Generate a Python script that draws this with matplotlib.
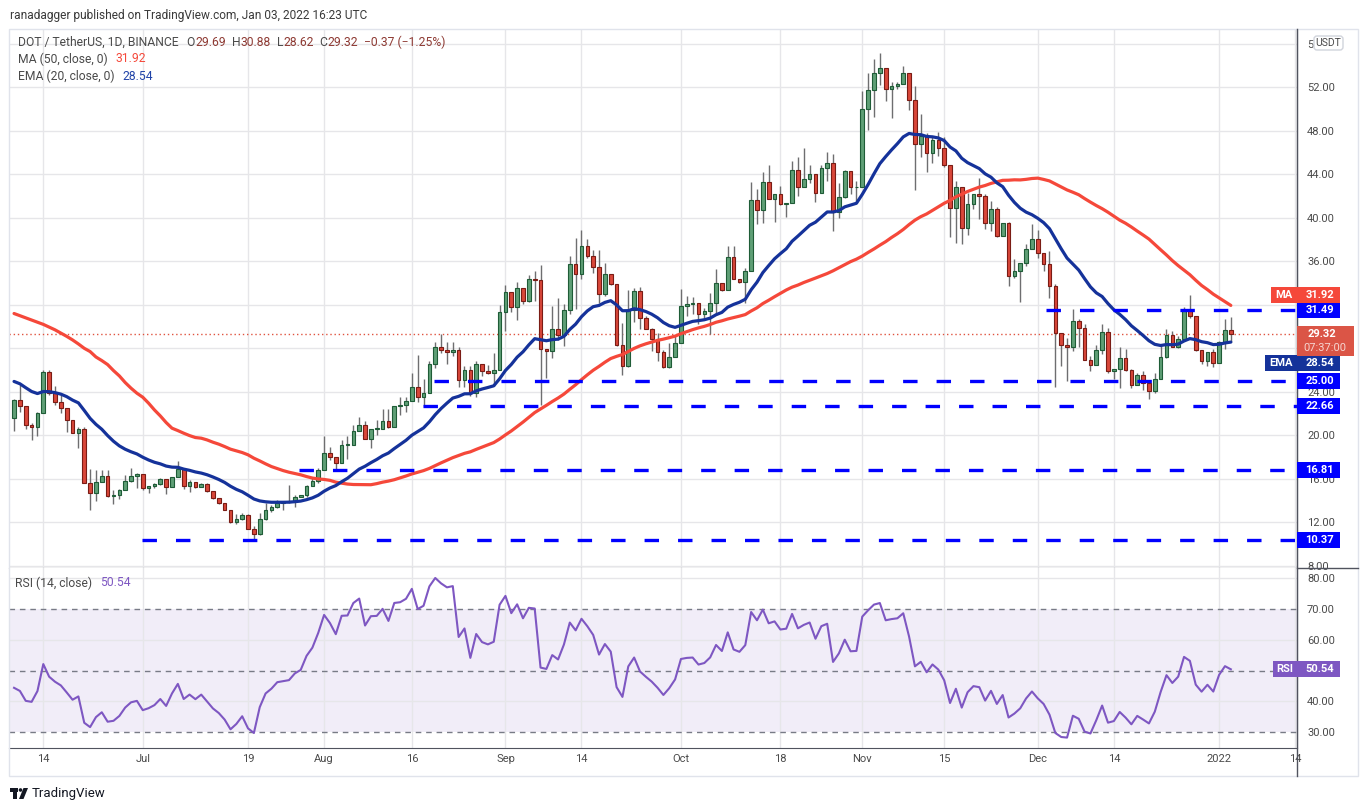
import numpy as np
import pandas as pd
import matplotlib
matplotlib.use("Agg")
import matplotlib.pyplot as plt
from matplotlib.patches import Rectangle, FancyBboxPatch, Circle, Polygon

plt.rcParams["font.family"] = ["Roboto", "DejaVu Sans"]
plt.rcParams["lines.scale_dashes"] = False

W, H = 1369, 811

# ── Data (DOT/USDT daily, Binance) ─────────────────────────────────
start_date = "2021-06-09"
first_open = 21.63

closes = [
    23.25, 22.70, 20.92, 20.74, 22.03, 25.80, 23.87, 23.07, 22.49, 21.38,
    20.19, 20.56, 15.65, 14.67, 15.74, 16.26, 14.43, 14.52, 14.98, 15.77,
    16.26, 16.39, 15.13, 15.29, 15.53, 15.99, 15.22, 16.14, 16.88, 15.35,
    15.68, 15.22, 15.53, 14.89, 14.21, 13.75, 13.08, 12.00, 12.28, 12.68,
    11.42, 10.90, 12.28, 13.11, 13.41, 13.81, 13.87, 13.93, 14.30, 14.49,
    15.29, 15.80, 16.82, 18.35, 17.98,
    17.46, 19.08, 19.11, 20.40, 20.92, 19.66, 20.58, 20.61, 21.32, 20.77,
    22.67, 22.76, 23.16, 24.44, 23.52, 23.89, 26.56, 28.12, 27.85, 27.66,
    27.85, 25.09, 26.01, 23.89, 26.56, 25.91, 25.73, 26.01, 31.34, 33.21,
    31.80, 33.55, 32.35, 34.37, 34.31, 27.94, 27.75, 29.78, 29.23, 31.55,
    35.79, 34.87, 37.38, 36.52, 35.51, 33.03, 34.87, 33.89, 28.30, 26.37,
    31.52, 33.30, 30.76, 29.75, 28.83, 27.66, 26.25, 27.23, 28.52, 31.89,
    32.08, 32.14, 31.19, 31.41, 32.20, 34.04, 33.37, 36.37, 34.41, 34.13,
    35.14, 41.67, 40.72, 43.33, 41.73, 42.16, 41.24, 41.40, 44.43,
    42.86, 43.54, 44.00, 42.31, 44.55, 45.01, 40.50, 41.88, 44.30, 42.80,
    42.86, 49.97, 51.72, 53.37, 53.83, 51.81, 52.09, 52.27, 53.37, 50.80,
    46.75, 47.49, 45.93, 47.12, 46.39, 44.82, 40.87, 42.80, 39.03, 41.24,
    42.16, 41.97, 39.49, 40.81, 38.30, 39.49, 34.62,
    35.14, 35.82, 37.10, 38.02, 36.80, 35.79, 33.73, 29.41, 28.31, 28.15,
    30.55, 29.90, 26.93, 26.47, 27.88, 29.53, 25.95, 26.13, 27.14, 26.04,
    24.66, 25.52, 24.84, 24.11, 25.21, 27.23, 29.20, 28.15, 28.89, 31.43,
    30.97, 27.88, 26.84, 27.63, 26.68, 28.61, 29.69, 29.32,
]

highs = [
    23.31, 24.63, 22.70, 21.17, 22.10, 26.01, 26.01, 24.54, 23.93, 22.49,
    21.38, 20.74, 20.74, 16.88, 16.82, 16.82, 16.76, 14.92, 15.07, 16.36,
    17.03, 16.51, 16.39, 15.35, 15.65, 16.05, 15.99, 16.20, 17.64, 16.97,
    15.90, 15.74, 15.59, 15.59, 14.89, 14.21, 13.75, 13.08, 12.77, 12.83,
    12.77, 11.61, 12.83, 13.75, 13.60, 14.06, 13.87, 15.38, 14.52, 14.52,
    15.38, 16.20, 16.97, 19.94, 18.96,
    18.01, 19.60, 19.94, 20.92, 21.69, 21.29, 20.58, 21.44, 22.42, 22.42,
    22.73, 23.52, 23.52, 25.73, 27.42, 25.18, 26.87, 28.55, 29.32, 28.61,
    28.61, 28.12, 26.34, 26.34, 26.80, 26.56, 26.47, 27.57, 32.01, 33.85,
    33.21, 34.07, 33.55, 34.74, 35.14, 35.69, 27.94, 31.92, 32.63, 32.11,
    36.49, 38.18, 38.88, 38.03, 37.01, 37.01, 35.88, 34.87, 33.89, 30.36,
    33.40, 33.58, 33.64, 30.98, 29.90, 29.44, 27.85, 28.52, 29.14, 33.43,
    32.81, 32.75, 32.20, 31.74, 33.12, 35.27, 34.04, 37.41, 37.41, 34.41,
    35.42, 43.30, 42.62, 44.25, 44.83, 42.16, 42.93, 41.40, 45.27,
    45.56, 46.42, 44.85, 44.00, 44.85, 46.02, 45.87, 43.17, 44.39, 44.30,
    43.41, 51.63, 53.37, 54.60, 55.15, 53.83, 52.52, 52.46, 53.93, 53.37,
    52.09, 49.54, 47.77, 47.40, 47.86, 47.40, 44.82, 43.41, 42.80, 42.28,
    42.19, 43.63, 42.19, 41.57, 40.96, 39.49, 39.65,
    36.18, 35.88, 37.56, 39.40, 38.85, 36.80, 36.95, 33.89, 29.44, 28.98,
    31.59, 30.67, 30.21, 27.30, 28.28, 30.21, 29.90, 26.13, 28.12, 27.91,
    26.13, 25.76, 25.92, 24.84, 25.76, 28.31, 29.81, 29.59, 29.13, 31.80,
    32.87, 30.97, 27.88, 27.63, 27.91, 28.68, 30.67, 30.88,
]

lows = [
    20.43, 22.18, 20.56, 19.57, 19.97, 22.03, 23.71, 22.79, 22.03, 20.28,
    20.19, 18.87, 15.65, 13.08, 13.97, 15.74, 14.36, 13.66, 14.12, 14.98,
    15.74, 15.13, 14.98, 14.67, 15.13, 15.44, 14.58, 15.22, 16.14, 15.04,
    14.82, 15.13, 15.22, 14.82, 14.12, 13.69, 13.08, 11.97, 11.82, 12.22,
    11.42, 10.37, 10.84, 12.22, 12.98, 13.29, 13.14, 13.75, 13.44, 14.30,
    14.36, 15.29, 15.65, 16.82, 17.73,
    16.90, 17.46, 17.85, 19.08, 20.40, 19.66, 18.80, 20.06, 20.58, 20.67,
    20.77, 21.84, 22.11, 23.16, 23.06, 22.60, 23.89, 26.19, 27.57, 26.56,
    27.26, 24.44, 24.41, 23.59, 23.49, 25.49, 25.67, 24.50, 26.01, 29.62,
    31.31, 30.57, 32.08, 32.23, 32.32, 22.76, 25.27, 27.11, 28.80, 28.24,
    31.13, 31.59, 34.35, 36.34, 34.96, 32.20, 32.81, 33.80, 28.22, 25.52,
    26.32, 30.42, 29.81, 29.75, 27.76, 26.84, 26.22, 26.22, 27.30, 28.65,
    30.98, 31.19, 30.21, 30.67, 29.29, 31.28, 33.27, 33.37, 34.41, 34.04,
    32.20, 35.14, 39.40, 39.50, 41.73, 39.62, 41.15, 40.11, 41.40,
    42.03, 42.86, 43.17, 41.42, 42.31, 43.41, 38.82, 39.95, 41.82, 42.19,
    41.57, 42.80, 48.07, 49.24, 52.24, 50.71, 49.18, 51.84, 52.27, 49.94,
    42.59, 45.62, 44.18, 45.01, 45.71, 44.64, 38.20, 37.65, 37.59, 38.45,
    40.81, 39.89, 38.97, 38.82, 38.20, 38.30, 33.73,
    34.50, 32.26, 35.57, 37.10, 36.34, 35.11, 32.66, 24.45, 26.38, 25.00,
    27.76, 28.15, 26.93, 25.92, 26.47, 27.45, 25.76, 25.15, 24.38, 25.92,
    24.38, 24.60, 24.17, 23.37, 23.86, 25.21, 27.14, 28.15, 28.06, 28.89,
    30.82, 27.76, 26.53, 26.38, 26.31, 26.68, 27.91, 28.62,
]

# MA(50) for the first 49 days (history before the visible window)
ma50_head = [
    31.2, 31.0, 30.8, 30.6, 30.4, 30.2, 29.95, 29.7, 29.4, 29.1,
    28.77, 28.4, 28.0, 27.7, 27.2, 26.87, 26.5, 25.95, 25.46, 24.85,
    24.33, 23.87, 23.5, 22.95, 22.33, 21.78, 21.17, 20.65, 20.43, 20.19,
    19.97, 19.79, 19.73, 19.57, 19.36, 19.18, 18.96, 18.72, 18.56, 18.41,
    18.2, 17.89, 17.64, 17.37, 17.12, 16.94, 16.75, 16.6, 16.48,
]
ema20_first = 24.95
rsi_gain_first, rsi_loss_first = 0.80, 1.00

# values as printed in the legend / axis tags
ma_text, ema_text, rsi_text = "31.92", "28.54", "50.54"

levels = [31.49, 25.00, 22.66, 16.81, 10.37]
level_labels = ["31.49", "25.00", "22.66", "16.81", "10.37"]

tick_dates = ["2021-06-14", "2021-07-01", "2021-07-19", "2021-08-01", "2021-08-16",
              "2021-09-01", "2021-09-14", "2021-10-01", "2021-10-18", "2021-11-01",
              "2021-11-15", "2021-12-01", "2021-12-14", "2022-01-01", "2022-01-14"]
tick_labels = ["14", "Jul", "19", "Aug", "16", "Sep", "14", "Oct", "18", "Nov",
               "15", "Dec", "14", "2022", "14"]

# ── Derived series ─────────────────────────────────────────────────
c = np.array(closes)
o = np.r_[first_open, c[:-1]]
h = np.maximum(np.array(highs), np.maximum(o, c))
l = np.minimum(np.array(lows), np.minimum(o, c))
n = len(c)
x = np.arange(n)
t0 = pd.Timestamp(start_date)
tick_pos = [(pd.Timestamp(d) - t0).days for d in tick_dates]

ma50 = pd.Series(c).rolling(50).mean().to_numpy()
ma50[:49] = ma50_head

ema20 = np.empty(n)
ema20[0] = ema20_first
k = 2 / 21
for i in range(1, n):
    ema20[i] = ema20[i - 1] + k * (c[i] - ema20[i - 1])

rsi = np.empty(n)
ag, al = rsi_gain_first, rsi_loss_first
rsi[0] = 100 - 100 / (1 + ag / al)
for i in range(1, n):
    ch = c[i] - c[i - 1]
    ag = (13 * ag + max(ch, 0)) / 14
    al = (13 * al + max(-ch, 0)) / 14
    rsi[i] = 100 - 100 / (1 + ag / al)

# ── Styles ─────────────────────────────────────────────────────────
GREEN, GREEN_EDGE = "#5f9f76", "#1f5c37"
RED, RED_EDGE = "#d9473a", "#7a1c15"
WICK = "#6e6e70"
MA_COL = "#f5483a"
EMA_COL = "#15329a"
LVL_COL = "#0000ff"
GRID = "#e6e6e9"
AXIS = "#50535e"
TXT = "#4a4a4a"
RSI_COL = "#7e57c2"

level_x0 = [176.4, 71.8, 69.9, 48.7, 21.9]
xlim = (-0.863, 219.31)

fig = plt.figure(figsize=(W / 100, H / 100), dpi=100)
fig.patch.set_facecolor("white")

ax = fig.add_axes([9 / W, (H - 568) / H, 1288 / W, 539 / H])
rx = fig.add_axes([9 / W, (H - 748) / H, 1288 / W, 180 / H])

# ── Price pane ─────────────────────────────────────────────────────
ax.set_xlim(*xlim)
ax.set_ylim(7.788, 57.374)
for yv in range(8, 57, 4):
    ax.axhline(yv, color=GRID, lw=1, zorder=0)
for xv in tick_pos:
    ax.axvline(xv, color=GRID, lw=1, zorder=0)

ax.axhline(c[-1], color="#e0533f", lw=1, ls=(0, (1, 2)), zorder=1)

ax.vlines(x, l, h, color=WICK, lw=1, zorder=2)
up = c >= o
body_lo = np.minimum(o, c)
body_h = np.maximum(np.abs(c - o), 0.07)
ax.bar(x[up], body_h[up], bottom=body_lo[up], width=0.62, color=GREEN,
       edgecolor=GREEN_EDGE, linewidth=0.8, zorder=3)
ax.bar(x[~up], body_h[~up], bottom=body_lo[~up], width=0.62, color=RED,
       edgecolor=RED_EDGE, linewidth=0.8, zorder=3)

ax.plot(x, ma50, color=MA_COL, lw=2.3, zorder=4, solid_capstyle="round")
ax.plot(x, ema20, color=EMA_COL, lw=2.3, zorder=4, solid_capstyle="round")

for lv, x0 in zip(levels, level_x0):
    ax.plot([x0, xlim[1]], [lv, lv], color=LVL_COL, lw=2.4,
            dashes=(10.4, 13.7), dash_capstyle="butt", zorder=5)

# 28 and 32 sit under the axis tags, as in the original
price_ticks = list(range(8, 57, 4))
ax.yaxis.tick_right()
ax.set_yticks(price_ticks)
ax.set_yticklabels(["" if v in (28, 32) else f"{v:.2f}" for v in price_ticks])
ax.tick_params(axis="y", length=0, pad=7.2, labelsize=8, labelcolor=TXT)
ax.set_xticks(tick_pos)
ax.tick_params(axis="x", length=0, labelbottom=False)
for s in ["top", "left"]:
    ax.spines[s].set_visible(False)
ax.spines["right"].set_color(AXIS)
ax.spines["bottom"].set_color(AXIS)

# ── RSI pane ───────────────────────────────────────────────────────
rx.set_xlim(*xlim)
rx.set_ylim(24.9, 83.34)
rx.axhspan(30, 70, color=RSI_COL, alpha=0.1, lw=0, zorder=0)
for yv in (80, 60, 40):
    rx.axhline(yv, color=GRID, lw=1, zorder=0)
for xv in tick_pos:
    rx.axvline(xv, color=GRID, lw=1, zorder=0)
for yv in (70, 50, 30):
    rx.axhline(yv, color="#787b86", lw=1, dashes=(4, 3.5), zorder=1)
rx.plot(x, rsi, color=RSI_COL, lw=1.5, zorder=3)

rx.yaxis.tick_right()
rx.set_yticks([30, 40, 60, 70, 80])
rx.set_yticklabels([f"{v:.2f}" for v in (30, 40, 60, 70, 80)])
rx.tick_params(axis="y", length=0, pad=7.2, labelsize=8, labelcolor=TXT)
rx.set_xticks(tick_pos)
rx.set_xticklabels(tick_labels)
rx.tick_params(axis="x", length=0, pad=4.5, labelsize=8, labelcolor=TXT)
for s in ["top", "left"]:
    rx.spines[s].set_visible(False)
rx.spines["right"].set_color(AXIS)
rx.spines["bottom"].set_color(AXIS)

# ── Overlay in pixel coordinates ───────────────────────────────────
over = fig.add_axes([0, 0, 1, 1], zorder=10)
over.set_xlim(0, W)
over.set_ylim(H, 0)
over.axis("off")
over.patch.set_visible(False)
renderer = fig.canvas.get_renderer()


def py(a, v):
    return H - a.transData.transform((0, v))[1]


def rich(x0, y0, parts, size=8.7):
    for s, col, gap in parts:
        t = over.text(x0, y0, s, color=col, fontsize=size, ha="left", va="center")
        x0 += t.get_window_extent(renderer=renderer).width + gap
    return x0


def tag(yc, text, fc, x0=1297, x1=1340, hh=16):
    over.add_patch(Rectangle((x0, yc - hh / 2), x1 - x0, hh, fc=fc, ec="none", zorder=5))
    over.text((x0 + x1) / 2 + 1, yc, text, color="white", fontsize=8, fontweight="bold",
              ha="center", va="center", zorder=6)


# frame
over.add_patch(Rectangle((9, 29), 1349, 747, fill=False, ec="#e0e3eb", lw=1))
over.plot([1297, 1297], [29, 776], color=AXIS, lw=1)
over.plot([1297, 1358], [568, 568], color=AXIS, lw=1)

# header texts
over.text(10, 15, "ranadagger published on TradingView.com, Jan 03, 2022 16:23 UTC",
          color="#3a3a3a", fontsize=8.6, ha="left", va="center")
VAL = "#8e3a33"
rich(18, 42, [("DOT / TetherUS, 1D, BINANCE", TXT, 8), ("O", TXT, 0), ("29.69", VAL, 6),
              ("H", TXT, 0), ("30.88", VAL, 6), ("L", TXT, 0), ("28.62", VAL, 6),
              ("C", TXT, 0), ("29.32", VAL, 6), ("\u22120.37 (\u22121.25%)", VAL, 0)])
rich(18, 59, [("MA (50, close, 0)", TXT, 8), (ma_text, MA_COL, 0)])
rich(18, 76, [("EMA (20, close, 0)", TXT, 8), (ema_text, "#2144a8", 0)])
rich(15, 583, [("RSI (14, close)", TXT, 8), (rsi_text, RSI_COL, 0)])

# USDT badge over the clipped top label
over.add_patch(FancyBboxPatch((1314, 36), 29, 14, boxstyle="round,pad=0,rounding_size=3",
                              fc="white", ec="#d1d4dc", lw=1, zorder=5))
over.text(1328.5, 43, "USDT", color=TXT, fontsize=7.5, ha="center", va="center", zorder=6)

# axis tags
for lv, lab in zip(levels, level_labels):
    tag(py(ax, lv), lab, LVL_COL)
over.add_patch(Rectangle((1271, 287), 26, 16, fc=MA_COL, ec="none", zorder=5))
over.text(1284, 295, "MA", color="white", fontsize=8, fontweight="bold", ha="center", va="center", zorder=6)
tag(295, ma_text, MA_COL)
over.add_patch(Rectangle((1265, 355), 32, 16, fc=EMA_COL, ec="none", zorder=5))
over.text(1281, 363, "EMA", color="white", fontsize=8, fontweight="bold", ha="center", va="center", zorder=6)
tag(363, ema_text, EMA_COL)

yp = py(ax, c[-1])
over.add_patch(Rectangle((1297, yp - 8), 57, 30, fc="#db5546", ec="none", zorder=5))
over.text(1308, yp, f"{c[-1]:.2f}", color="white", fontsize=8, fontweight="bold",
          ha="left", va="center", zorder=6)
over.text(1303, yp + 14, "07:37:00", color="#f6d5d0", fontsize=8,
          ha="left", va="center", zorder=6)

yr = py(rx, float(rsi_text))
over.add_patch(Rectangle((1273, yr - 8), 24, 16, fc=RSI_COL, ec="none", zorder=5))
over.text(1285, yr, "RSI", color="white", fontsize=8, fontweight="bold", ha="center", va="center", zorder=6)
tag(yr, rsi_text, RSI_COL)

# TradingView logo
over.add_patch(Rectangle((10, 788), 8, 3.5, fc="#131722", ec="none"))
over.add_patch(Rectangle((13, 788), 3.5, 11, fc="#131722", ec="none"))
over.add_patch(Circle((20.5, 790), 1.8, fc="#131722", ec="none"))
over.add_patch(Polygon([(19, 799), (23.5, 788), (28, 788), (23.5, 799)], closed=True, fc="#131722", ec="none"))
over.text(32, 793.5, "TradingView", color="#131722", fontsize=9.5, ha="left", va="center")

fig.savefig("out.png", dpi=100)
